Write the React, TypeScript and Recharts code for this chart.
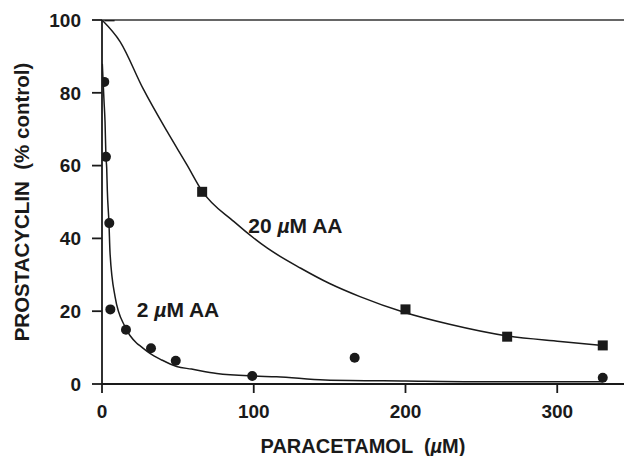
import { ComposedChart, Line, Scatter, XAxis, YAxis, ReferenceLine, ReferenceDot, Label } from "recharts";

const FONT = "'Liberation Sans', Arial, Helvetica, sans-serif";
const INK = "#1a1a1a";

// fitted curve, 20 µM AA
const curve20X = [0, 12, 27, 43, 56, 66, 87, 109, 131, 150, 170, 199, 229, 267, 302, 330];
const curve20Y = [100, 94, 81.2, 69.3, 60.2, 53, 44.6, 37.3, 31.8, 27.6, 24, 19.7, 16.4, 13.2, 11.7, 10.6];

// fitted curve, 2 µM AA
const curve2X = [0.2, 1.3, 2, 2.6, 3.1, 3.5, 4.6, 5.3, 8.6, 15.2, 22.9, 26, 31.6, 39.4, 49.2, 59, 75.6, 99, 115, 147, 200, 250, 330];
const curve2Y = [88, 78, 72, 62.4, 59.3, 53.3, 44.1, 36, 24, 15.7, 11.2, 10.2, 8.4, 6.6, 4.8, 4.1, 2.9, 2.2, 2, 1.1, 0.8, 0.6, 0.6];

// measured points
const sq20X = [5, 66, 200, 267, 330];
const sq20Y = [101, 52.8, 20.5, 13, 10.6];
const circ2X = [1.5, 2.6, 4.8, 5.5, 15.8, 32.3, 48.6, 99, 166.5, 330];
const circ2Y = [83, 62.4, 44.2, 20.5, 14.9, 9.8, 6.4, 2.2, 7.2, 1.7];

const xTicks = [0, 100, 200, 300];
const yTicks = [0, 20, 40, 60, 80, 100];

const zip = (xs: number[], ys: number[]) => xs.map((x, i) => ({ x, y: ys[i] }));

const curve20 = zip(curve20X, curve20Y);
const curve2 = zip(curve2X, curve2Y);
const points20 = zip(sq20X, sq20Y);
const points2 = zip(circ2X, circ2Y);

const tickStyle = { fill: INK, fontSize: 19, fontWeight: 700, fontFamily: FONT };

function Square(props: any) {
  const { cx, cy } = props;
  return <rect x={cx - 5} y={cy - 5} width={10} height={10} fill={INK} />;
}

function Circle(props: any) {
  const { cx, cy } = props;
  return <circle cx={cx} cy={cy} r={5} fill={INK} />;
}

function tag(num: string) {
  return (props: any) => {
    const vb = props.viewBox;
    return (
      <text x={vb.x + vb.width / 2} y={vb.y + vb.height / 2} fill={INK} fontSize={21} fontWeight={700} fontFamily={FONT} style={{ whiteSpace: "pre" }}>
        {num} <tspan fontStyle="italic">µ</tspan>M AA
      </text>
    );
  };
}

export default function App() {
  return (
    <div style={{ position: "absolute", left: 0, top: 0, background: "#fff" }}>
      <ComposedChart width={624} height={456} margin={{ top: 20, right: 0, bottom: 0, left: 0 }}>
        <XAxis
          type="number"
          dataKey="x"
          domain={[0, 344]}
          ticks={xTicks}
          allowDataOverflow
          height={72}
          tickSize={9}
          tickMargin={12}
          stroke={INK}
          strokeWidth={1.8}
          tick={tickStyle}
        >
          <Label
            content={(p: any) => {
              const vb = p.viewBox;
              return (
                <text x={vb.x + vb.width / 2} y={vb.y + 69} textAnchor="middle" fill={INK} fontSize={20} fontWeight={700} fontFamily={FONT} style={{ whiteSpace: "pre" }}>
                  PARACETAMOL  (<tspan fontStyle="italic">µ</tspan>M)
                </text>
              );
            }}
          />
        </XAxis>
        <YAxis
          type="number"
          domain={[0, 100]}
          ticks={yTicks}
          allowDataOverflow
          width={102}
          tickSize={10}
          tickMargin={11}
          stroke={INK}
          strokeWidth={1.8}
          tick={tickStyle}
        >
          <Label
            content={(p: any) => {
              const vb = p.viewBox;
              const x = vb.x + 29;
              const y = vb.y + vb.height / 2;
              return (
                <text x={x} y={y} transform={`rotate(-90, ${x}, ${y})`} textAnchor="middle" fill={INK} fontSize={20.5} fontWeight={700} fontFamily={FONT} style={{ whiteSpace: "pre" }}>
                  PROSTACYCLIN  (% control)
                </text>
              );
            }}
          />
        </YAxis>
        <ReferenceLine y={100} stroke="#333" strokeWidth={1.5} />
        <Line data={curve20} dataKey="y" type="monotone" stroke={INK} strokeWidth={1.5} dot={false} isAnimationActive={false} />
        <Line data={curve2} dataKey="y" type="monotone" stroke={INK} strokeWidth={1.5} dot={false} isAnimationActive={false} />
        <Scatter data={points20} dataKey="y" shape={<Square />} isAnimationActive={false} />
        <Scatter data={points2} dataKey="y" shape={<Circle />} isAnimationActive={false} />
        <ReferenceDot x={96.4} y={41.5} r={0} fill="none" stroke="none" label={{ content: tag("20") }} />
        <ReferenceDot x={22.9} y={18.4} r={0} fill="none" stroke="none" label={{ content: tag("2") }} />
      </ComposedChart>
    </div>
  );
}
